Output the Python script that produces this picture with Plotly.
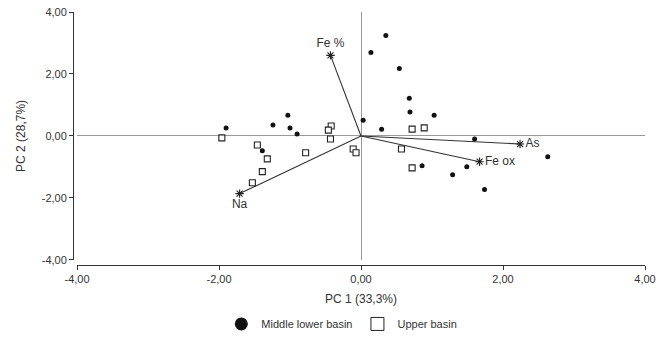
import plotly.graph_objects as go

# Scores: Middle lower basin (filled circles)
mid_x = [-1.90, -1.24, -1.03, -1.00, -0.90, 0.35, 0.14, 0.54, 0.68, 0.69,
         1.03, 0.03, 0.29, 1.60, -1.39, 0.86, 1.49, 1.29, 1.74, 2.63]
mid_y = [0.26, 0.35, 0.67, 0.26, 0.06, 3.24, 2.69, 2.18, 1.22, 0.77,
         0.67, 0.51, 0.22, -0.10, -0.48, -0.96, -0.99, -1.25, -1.73, -0.67]

# Scores: Upper basin (open squares)
up_x = [-1.96, -0.42, -0.46, -0.43, 0.72, 0.89, -1.46, -1.32, -1.39, -1.53,
        -0.78, -0.11, -0.07, 0.57, 0.72]
up_y = [-0.06, 0.32, 0.19, -0.10, 0.22, 0.26, -0.29, -0.74, -1.15, -1.51,
        -0.54, -0.42, -0.54, -0.42, -1.03]

# Loadings (vectors)
var_names = ["Fe %", "Na", "As", "Fe ox"]
var_x = [-0.43, -1.71, 2.24, 1.67]
var_y = [2.60, -1.86, -0.26, -0.83]
var_textpos = ["top center", "bottom center", "middle right", "middle right"]

tick_vals = [-4, -2, 0, 2, 4]
tick_text = ["-4,00", "-2,00", "0,00", "2,00", "4,00"]

FONT = "Arial, Liberation Sans, sans-serif"
TXT = "#333333"

fig = go.Figure()

# vectors
for vx, vy in zip(var_x, var_y):
    fig.add_trace(go.Scatter(x=[0, vx], y=[0, vy], mode="lines",
                             line=dict(color="#333333", width=1.1),
                             showlegend=False, hoverinfo="skip"))
fig.add_trace(go.Scatter(x=var_x, y=var_y, mode="markers+text", text=var_names,
                         textposition=var_textpos,
                         textfont=dict(family=FONT, size=12, color=TXT),
                         marker=dict(symbol="asterisk-open", size=7, color="#222222",
                                     line=dict(color="#222222", width=1.1)),
                         showlegend=False, hoverinfo="skip"))

fig.add_trace(go.Scatter(x=up_x, y=up_y, mode="markers",
                         marker=dict(symbol="square", size=6, color="white",
                                     line=dict(color="#222222", width=1.1)),
                         showlegend=False))
fig.add_trace(go.Scatter(x=mid_x, y=mid_y, mode="markers",
                         marker=dict(symbol="circle", size=5, color="#111111",
                                     line=dict(width=0)),
                         showlegend=False))

# legend proxies
fig.add_trace(go.Scatter(x=[None], y=[None], mode="markers", name="Middle lower basin",
                         marker=dict(symbol="circle", size=13, color="#111111")))
fig.add_trace(go.Scatter(x=[None], y=[None], mode="markers", name="Upper basin",
                         marker=dict(symbol="square", size=13, color="white",
                                     line=dict(color="#222222", width=1))))

fig.update_layout(
    width=672, height=339,
    margin=dict(l=73, r=27, t=12, b=74, autoexpand=False),
    paper_bgcolor="white", plot_bgcolor="white",
    font=dict(family=FONT, size=11, color=TXT),
    xaxis=dict(range=[-4, 4], domain=[0.007, 1], anchor="free", position=0,
               tickvals=tick_vals, ticktext=tick_text, automargin=False,
               showline=True, linecolor="#333333", linewidth=1,
               ticks="outside", ticklen=4, tickcolor="#333333",
               showgrid=False, zeroline=True, zerolinecolor="#999999", zerolinewidth=1,
               title=dict(text="PC 1 (33,3%)", font=dict(size=12), standoff=10)),
    yaxis=dict(range=[-4, 4], domain=[0.02, 1], anchor="free", position=0,
               tickvals=tick_vals, ticktext=tick_text, automargin=False,
               showline=True, linecolor="#333333", linewidth=1,
               ticks="outside", ticklen=4, tickcolor="#333333",
               showgrid=False, zeroline=True, zerolinecolor="#999999", zerolinewidth=1,
               title=dict(text="PC 2 (28,7%)", font=dict(size=12), standoff=12)),
    legend=dict(orientation="h", x=0.47, xanchor="center", y=-0.233, yanchor="middle",
                font=dict(size=11), tracegroupgap=0),
)

fig.write_html("out.html", config={"displayModeBar": False},
               post_script="document.body.style.margin='0px';")
